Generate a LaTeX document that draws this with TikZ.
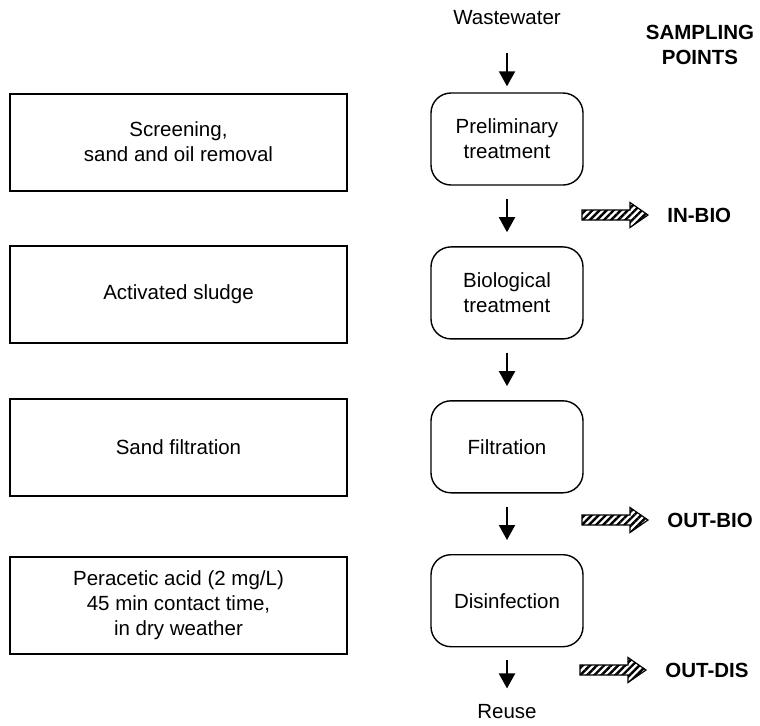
\documentclass[tikz,border=0pt]{standalone}
\usepackage{fontspec}
\setmainfont{Liberation Sans}
\usepackage{tikz}
\usetikzlibrary{arrows.meta,positioning,patterns.meta}
\tikzstyle{plainbox} = [rectangle, draw=black, line width=1pt, minimum width=168.5pt,
minimum height=48.5pt, align=center, inner sep=0pt]
\tikzstyle{roundbox} = [rectangle, rounded corners=10pt, draw=black, line width=0.7pt,
minimum width=76pt, minimum height=46pt, align=center, inner sep=0pt]
\tikzstyle{flowarrow} = [line width=1pt,-{Triangle[width=8pt,length=7.5pt]},shorten <=6.5pt,shorten >=7pt]
\tikzstyle{sample} = [draw=black, line width=0.6pt, pattern={Lines[angle=45,distance=2.5pt,line width=1.2pt]}]
\tikzstyle{samplelabel} = [anchor=west, inner sep=0pt, font=\bfseries]
\tikzstyle{plain} = [inner sep=0pt]

\begin{document}
\fontsize{10.25pt}{12.5pt}\selectfont
\begin{tikzpicture}[x=0.5pt, y=-0.5pt, node distance=30.25pt]
        \useasboundingbox (0,0) rectangle (760,725);
        % treatment line
        \node (ww) [plain] at (507,18) {Wastewater};
        \node (prelim) [roundbox] at (507,139) {Preliminary\\treatment};
        \node (bio) [roundbox, below=of prelim] {Biological\\treatment};
        \node (filt) [roundbox, below=of bio] {Filtration};
        \node (disinf) [roundbox, below=of filt] {Disinfection};
        \node (reuse) [plain] at (507,712) {Reuse};
        % descriptions
        \node (screen) [plainbox] at (178.5,142) {Screening,\\sand and oil removal};
        \node (sludge) [plainbox] at (178.5,294) {Activated sludge};
        \node (sand) [plainbox] at (178.5,447) {Sand filtration};
        \node (paa) [plainbox] at (178.5,605) {Peracetic acid (2 mg/L)\\45 min contact time,\\in dry weather};
        %
        \draw [flowarrow, shorten <=13.5pt, shorten >=3pt] (ww) -- (prelim);
        \draw [flowarrow] (prelim) -- (bio);
        \draw [flowarrow] (bio) -- (filt);
        \draw [flowarrow] (filt) -- (disinf);
        \draw [flowarrow, shorten >=8pt] (disinf) -- (reuse);
        % sampling points
        \node (sp) [plain, font=\bfseries, align=center] at (700,45) {SAMPLING\\POINTS};
        \node (inbio) [samplelabel] at (667,215) {IN-BIO};
        \node (outbio) [samplelabel] at (667,520) {OUT-BIO};
        \node (outdis) [samplelabel] at (665,670) {OUT-DIS};
        \foreach \pt in {inbio,outbio,outdis}
        \draw [sample] (\pt.west) ++(-19,0) -- ++(-18,-12.5) -- ++(0,7.5) -- ++(-48,0)
        -- ++(0,10) -- ++(48,0) -- ++(0,7.5) -- cycle;
    \end{tikzpicture}
\end{document}
